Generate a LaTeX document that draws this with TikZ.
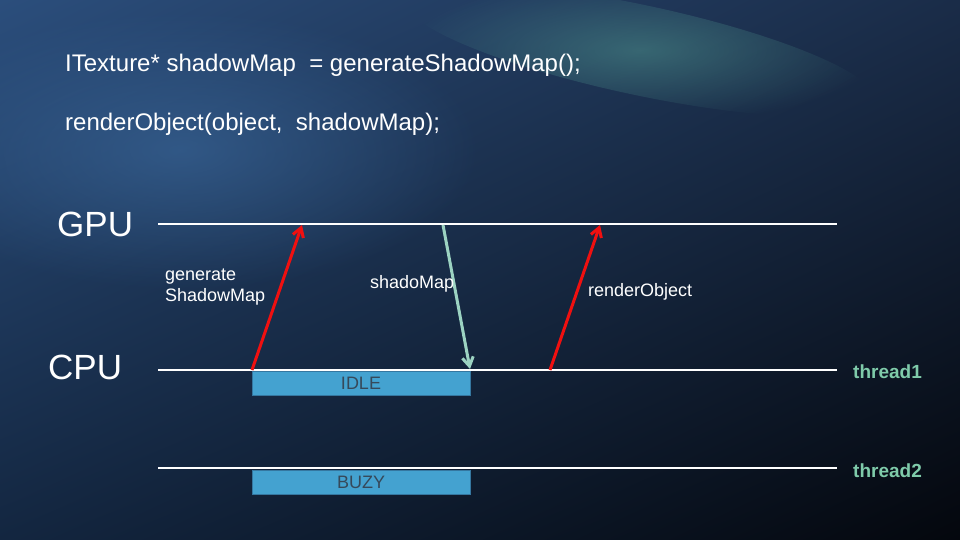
\documentclass[tikz,border=0pt]{standalone}
\usepackage{fontspec}
\setmainfont{Liberation Sans}
\usepackage{xcolor}
\usetikzlibrary{positioning,arrows.meta,fadings,shadings}
\tikzfading[name=glowfade, inner color=transparent!0, outer color=transparent!100]

\definecolor{bgUL}{HTML}{2B4E7C}
\definecolor{bgUR}{HTML}{1A2C48}
\definecolor{bgLL}{HTML}{132640}
\definecolor{bgLR}{HTML}{04070D}
\definecolor{glowTeal}{HTML}{5FB3A0}
\definecolor{glowBlue}{HTML}{3C6A9E}
\definecolor{callRed}{HTML}{F01010}
\definecolor{backTeal}{HTML}{9CD3C2}
\definecolor{threadGreen}{HTML}{7FCBAA}
\definecolor{boxFill}{HTML}{44A2D0}
\definecolor{boxEdge}{HTML}{3577A0}
\definecolor{boxText}{HTML}{36495A}

\begin{document}
\begin{tikzpicture}[x=1pt,y=-1pt,
    timeline/.style={draw=white, line width=2pt},
    codetxt/.style={text=white, inner sep=0pt, anchor=base west, font=\fontsize{24}{29}\selectfont},
    unittxt/.style={text=white, inner sep=0pt, anchor=base west, font=\fontsize{35}{40}\selectfont},
    labeltxt/.style={text=white, inner sep=0pt, anchor=base west, align=left, font=\fontsize{18}{21}\selectfont},
    threadtxt/.style={text=threadGreen, inner sep=0pt, anchor=base west, font=\bfseries\fontsize{19}{23}\selectfont},
    statebox/.style={draw=boxEdge, fill=boxFill, line width=1pt, minimum width=218pt, minimum height=24pt,
                     inner sep=0pt, text=boxText, font=\fontsize{18}{22}\selectfont},
    callarrow/.style={draw=callRed, line width=3pt, -{Straight Barb[length=9pt,width=11pt]}},
    backarrow/.style={draw=backTeal, line width=3pt, -{Straight Barb[length=9pt,width=11pt]}}]
    \useasboundingbox (0,0) rectangle (960,540);

    % Background
    \shade[upper left=bgUL, upper right=bgUR, lower left=bgLL, lower right=bgLR] (0,0) rectangle (960,540);
    \fill[glowBlue, path fading=glowfade, opacity=.6] (180,150) ellipse [x radius=300pt, y radius=140pt];
    \fill[glowTeal, path fading=glowfade, opacity=.4, rotate around={-12:(640,50)}] (640,50) ellipse [x radius=240pt, y radius=45pt];

    % Code
    \node[codetxt] (code1) at (65,72) {ITexture* shadowMap\ \ = generateShadowMap();};
    \node[codetxt] (code2) at (65,131) {renderObject(object,\ \ shadowMap);};

    % Timelines
    \node[unittxt] (gpu) at (57,236) {GPU};
    \node[unittxt] (cpu) at (48,379) {CPU};
    \coordinate (gpuL) at (158,224); \coordinate (gpuR) at (837,224);
    \coordinate (cpuL) at (158,370); \coordinate (cpuR) at (837,370);
    \coordinate (thrL) at (158,468); \coordinate (thrR) at (837,468);
    \draw[timeline] (gpuL) -- (gpuR);
    \draw[timeline] (cpuL) -- (cpuR);
    \draw[timeline] (thrL) -- (thrR);
    \node[threadtxt] (thread1) at (853,378) {thread1};
    \node[threadtxt] (thread2) at (853,477) {thread2};

    % States
    \node[statebox] (idle) at (361,383) {IDLE};
    \node[statebox] (buzy) at (361,482) {BUZY};

    % Calls
    \coordinate (genFrom) at (252,370); \coordinate (genTo) at (302,225);
    \coordinate (mapFrom) at (443,225); \coordinate (mapTo) at (470,369);
    \coordinate (renFrom) at (550,370); \coordinate (renTo) at (600,225);
    \draw[callarrow] (genFrom) -- (genTo);
    \draw[backarrow] (mapFrom) -- (mapTo);
    \draw[callarrow] (renFrom) -- (renTo);
    \node[labeltxt] (genLabel) at (165,301) {generate\\ShadowMap};
    \node[labeltxt] (mapLabel) at (370,288) {shadoMap};
    \node[labeltxt] (renLabel) at (588,296) {renderObject};
\end{tikzpicture}
\end{document}
